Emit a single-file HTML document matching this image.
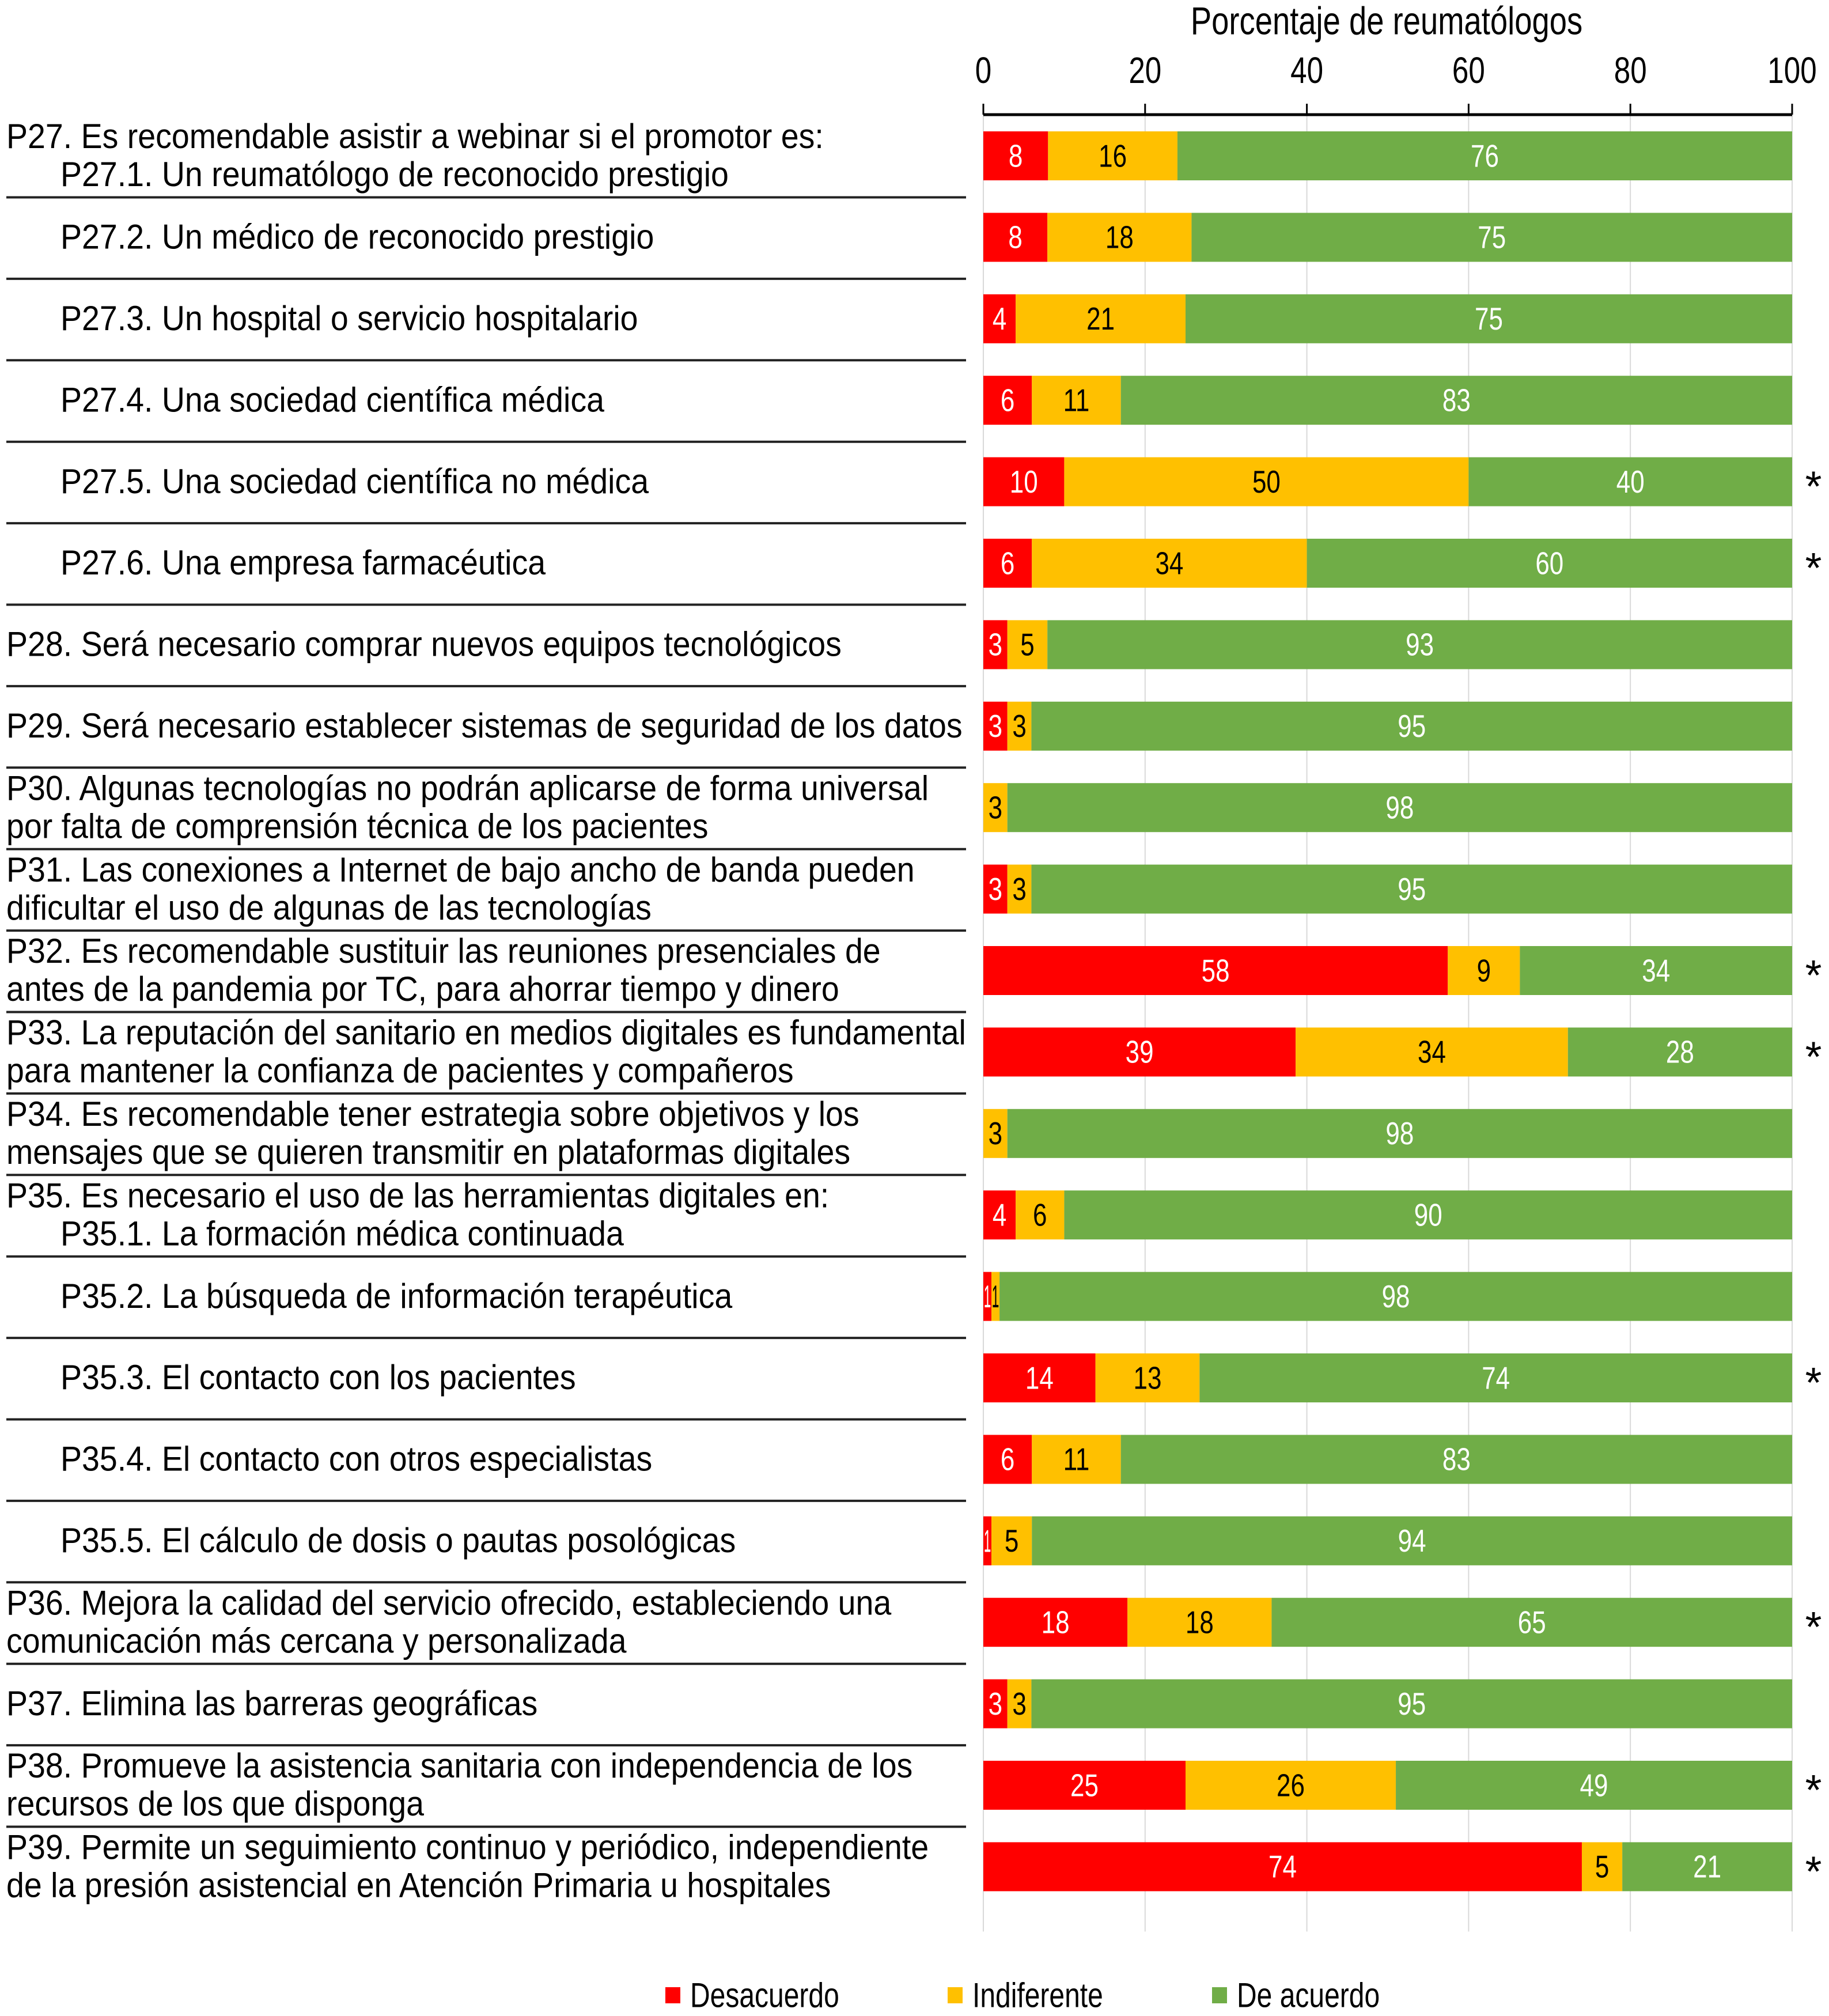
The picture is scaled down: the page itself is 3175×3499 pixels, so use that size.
<!DOCTYPE html>
<html><head><meta charset="utf-8"><style>
html,body{margin:0;padding:0;background:#fff;}
svg{display:block;font-family:"Liberation Sans",Arial,sans-serif;}
</style></head><body>
<svg id="chart" width="3175" height="3499" viewBox="0 0 3175 3499" xmlns="http://www.w3.org/2000/svg">
<g id="grid"></g>
<g id="axis"></g>
<g id="bars"></g>
<g id="labels"></g>
<g id="legend"></g>
</svg>
<script>
const categories = [
 ["P27. Es recomendable asistir a webinar si el promotor es:","  P27.1. Un reumatólogo de reconocido prestigio"],
 ["  P27.2. Un médico de reconocido prestigio"],
 ["  P27.3. Un hospital o servicio hospitalario"],
 ["  P27.4. Una sociedad científica médica"],
 ["  P27.5. Una sociedad científica no médica"],
 ["  P27.6. Una empresa farmacéutica"],
 ["P28. Será necesario comprar nuevos equipos tecnológicos"],
 ["P29. Será necesario establecer sistemas de seguridad de los datos"],
 ["P30. Algunas tecnologías no podrán aplicarse de forma universal","por falta de comprensión técnica de los pacientes"],
 ["P31. Las conexiones a Internet de bajo ancho de banda pueden","dificultar el uso de algunas de las tecnologías"],
 ["P32. Es recomendable sustituir las reuniones presenciales de","antes de la pandemia por TC, para ahorrar tiempo y dinero"],
 ["P33. La reputación del sanitario en medios digitales es fundamental","para mantener la confianza de pacientes y compañeros"],
 ["P34. Es recomendable tener estrategia sobre objetivos y los","mensajes que se quieren transmitir en plataformas digitales"],
 ["P35. Es necesario el uso de las herramientas digitales en:","  P35.1. La formación médica continuada"],
 ["  P35.2. La búsqueda de información terapéutica"],
 ["  P35.3. El contacto con los pacientes"],
 ["  P35.4. El contacto con otros especialistas"],
 ["  P35.5. El cálculo de dosis o pautas posológicas"],
 ["P36. Mejora la calidad del servicio ofrecido, estableciendo una","comunicación más cercana y personalizada"],
 ["P37. Elimina las barreras geográficas"],
 ["P38. Promueve la asistencia sanitaria con independencia de los","recursos de los que disponga"],
 ["P39. Permite un seguimiento continuo y periódico, independiente","de la presión asistencial en Atención Primaria u hospitales"]
];
const desacuerdo = [8,8,4,6,10,6,3,3,0,3,58,39,0,4,1,14,6,1,18,3,25,74];
const indiferente = [16,18,21,11,50,34,5,3,3,3,9,34,3,6,1,13,11,5,18,3,26,5];
const deAcuerdo = [76,75,75,83,40,60,93,95,98,95,34,28,98,90,98,74,83,94,65,95,49,21];
const significant = [0,0,0,0,1,1,0,0,0,0,1,1,0,0,0,1,0,0,1,0,1,1];
const ticks = [0,20,40,60,80,100];
const seriesNames = ["Desacuerdo","Indiferente","De acuerdo"];
const colors = ["#FF0000","#FFC000","#70AD47"];
const textColors = ["#fff","#000","#fff"];

const NS="http://www.w3.org/2000/svg";
const X0=1707, X1=3111, ROW0=270.5, PITCH=141.4, BH=85, K=0.80;
const xs = v => X0 + (X1-X0)*v/100;
const ys = i => ROW0 + PITCH*i;
function el(tag, attrs, parent){const e=document.createElementNS(NS,tag);for(const k in attrs)e.setAttribute(k,attrs[k]);parent.appendChild(e);return e;}
function txt(parent,s,x,y,size,anchor,fill,k){const t=el("text",{transform:`translate(${x},${y}) scale(${k},1)`,"font-size":size,"text-anchor":anchor,"dominant-baseline":"central",fill:fill},parent);t.textContent=s;return t;}

const grid=document.getElementById("grid"),axis=document.getElementById("axis"),bars=document.getElementById("bars"),labels=document.getElementById("labels"),legend=document.getElementById("legend");
const bottom = ys(categories.length-1)+BH/2+70;
ticks.forEach(t=>{
  const g=el("line",{x1:xs(t),x2:xs(t),y1:199,y2:bottom,stroke:"#d9d9d9","stroke-width":2},grid);
  
  
  const tm=el("line",{x1:xs(t),x2:xs(t),y1:180,y2:199,stroke:"#000","stroke-width":3},axis);
  
  
  const tl=txt(axis,String(t),xs(t),123,64,"middle","#000",K);
  
  
});
const al=el("line",{x1:X0,x2:X1,y1:199,y2:199,stroke:"#000","stroke-width":5},axis);


const title=txt(axis,"Porcentaje de reumatólogos",2407,37,68,"middle","#000",K);



categories.forEach((lines,i)=>{
  const vals=[desacuerdo[i],indiferente[i],deAcuerdo[i]];
  const sum=vals[0]+vals[1]+vals[2];
  let acc=0;
  const cy=ys(i);
  vals.forEach((v,s)=>{
    const a=acc/sum*100, b=(acc+v)/sum*100; acc+=v;
    if(v<=0) return;
    const r=el("rect",{x:xs(a),y:cy-BH/2,width:xs(b)-xs(a),height:BH,fill:colors[s]},bars);
    
    
    const w=xs(b)-xs(a);
    const lt=txt(bars,String(v),(xs(a)+xs(b))/2,cy,55,"middle",textColors[s],Math.min(K,w/34));
    
    
  });
  if(significant[i]){
    const st=txt(bars,"*",3148,cy+8,74,"middle","#000",1);
    
    
  }
  lines.forEach((ln,j)=>{
    const indent=ln.startsWith("  ");
    const y = lines.length===2 ? cy + (j===0?-33:33) : cy;
    const t=txt(labels,ln.trim(),indent?105:11,y,60,"start","#000",K);
    
    
  });
  if(i<categories.length-1){
    const sl=el("line",{x1:11,x2:1677,y1:cy+72,y2:cy+72,stroke:"#222","stroke-width":4},labels);
    
    
  }
});
const ref=[...labels.querySelectorAll("text")].find(t=>t.textContent.startsWith("P29"));
if(ref){const w=ref.getComputedTextLength();if(w>0){const k=1660/w;labels.querySelectorAll("text").forEach(t=>{t.setAttribute("transform",t.getAttribute("transform").replace(/scale\([^)]*\)/,`scale(${k},1)`));});}}

const legX=[1155,1645,2104];
seriesNames.forEach((n,s)=>{
  const m=el("rect",{x:legX[s],y:3449,width:26,height:28,fill:colors[s]},legend);
  
  
  const t=txt(legend,n,legX[s]+43,3463,60,"start","#000",K);
  
  
});
</script>
</body></html>
